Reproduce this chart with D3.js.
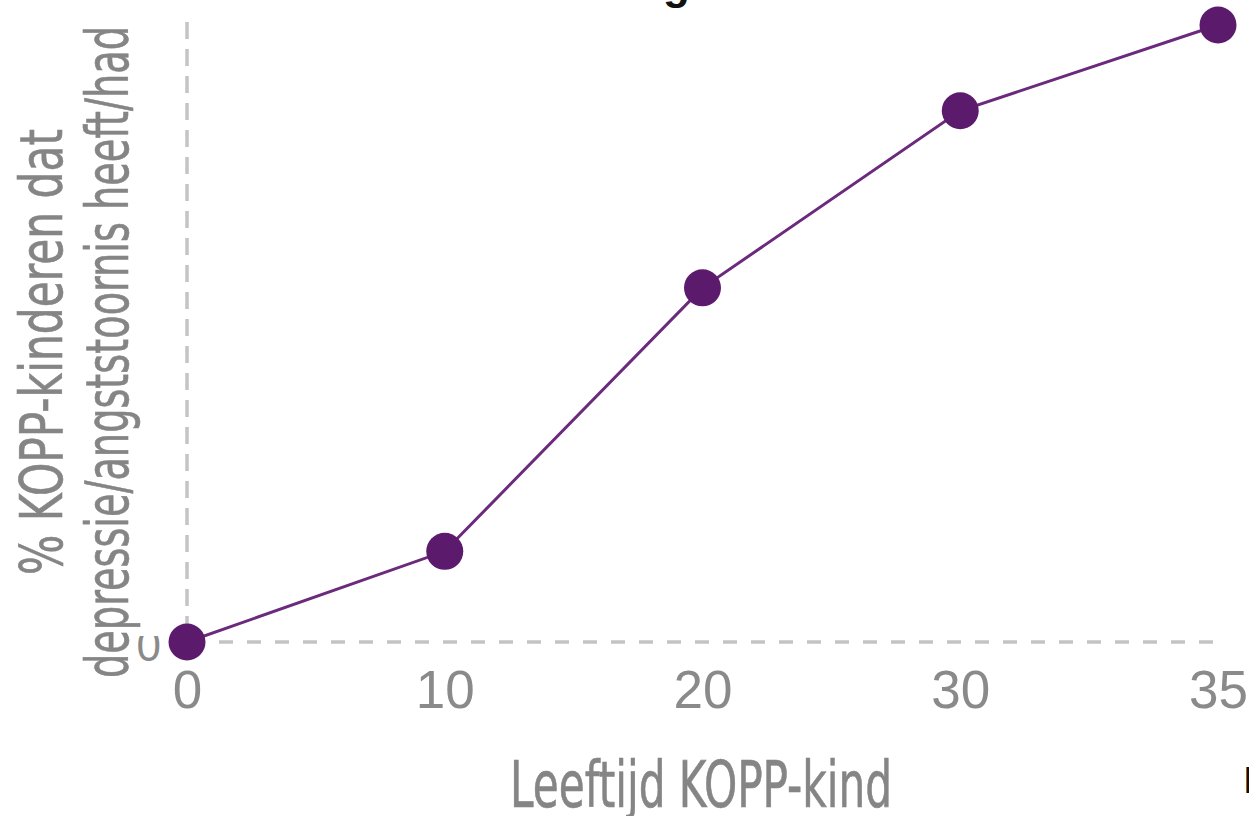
<!DOCTYPE html>
<html>
<head>
<meta charset="utf-8">
<script src="https://cdn.jsdelivr.net/npm/d3@7"></script>
<style>
  html, body { margin: 0; padding: 0; background: #ffffff; overflow: hidden; }
  svg { display: block; }
</style>
</head>
<body>
<svg id="chart" width="1249" height="816"></svg>
<script>
// ---- data ----
const ages = [0, 10, 20, 30, 35];                  // x categories (age of KOPP child)
const percentages = [0, 14.7, 57.4, 86.1, 100];     // relative % (only 0 is labelled in the source)
const xTickLabels = ["0", "10", "20", "30", "35"];
const yTickValues = [0];
const yTickLabels = ["0"];
const xTitle = "Leeftijd KOPP-kind";
const yTitleLines = ["% KOPP-kinderen dat", "depressie/angststoornis heeft/had"];

// ---- setup ----
const svg = d3.select("#chart");
const W = 1249, H = 816;
svg.append("rect").attr("width", W).attr("height", H).attr("fill", "#fff");

const x = d3.scalePoint().domain(ages).range([187, 1218]);
const y = d3.scaleLinear().domain([0, 100]).range([642, 25]);

const purple = "#5c1a6c";
const grey = "#8a8a8a";
const condensed = "'Liberation Sans Narrow', 'DejaVu Sans Condensed', 'Roboto Condensed', sans-serif";

// clipped title at the top (only descender visible)
svg.append("text")
  .attr("x", 690).attr("y", -1)
  .attr("text-anchor", "end")
  .attr("font-family", "'Liberation Sans', Arial, sans-serif")
  .attr("font-size", 44)
  .attr("font-weight", "bold")
  .attr("fill", "#111")
  .text("Ontwikkeling");

// dashed axis lines
svg.append("line")
  .attr("x1", x(0)).attr("x2", x(0))
  .attr("y1", 22).attr("y2", y(0) - 8)
  .attr("stroke", "#c4c4c4").attr("stroke-width", 3.5)
  .attr("stroke-dasharray", "17 10");
svg.append("line")
  .attr("x1", x(0) + 4).attr("x2", 1222)
  .attr("y1", y(0)).attr("y2", y(0))
  .attr("stroke", "#c4c4c4").attr("stroke-width", 3.5)
  .attr("stroke-dasharray", "14 14");

// x axis tick labels via d3 axis
const xAxis = d3.axisBottom(x).tickSize(0).tickPadding(0)
  .tickFormat((d, i) => xTickLabels[i]);
const gx = svg.append("g").attr("transform", "translate(0,670)").call(xAxis);
gx.select(".domain").remove();
gx.selectAll("text")
  .attr("dy", null).attr("y", 38)
  .attr("font-family", "'Liberation Sans', Arial, sans-serif")
  .attr("font-size", 53)
  .attr("fill", grey);

// y axis tick label "0" (partially hidden at its top)
svg.append("defs").append("clipPath").attr("id", "yclip")
  .append("rect").attr("x", 120).attr("y", 636).attr("width", 50).attr("height", 40);
const gyWrap = svg.append("g").attr("clip-path", "url(#yclip)");
const yAxis = d3.axisLeft(y).tickValues(yTickValues).tickSize(0).tickPadding(0)
  .tickFormat((d, i) => yTickLabels[i]);
const gy = gyWrap.append("g").attr("transform", "translate(161,0)").call(yAxis);
gy.select(".domain").remove();
gy.selectAll("text")
  .attr("dy", null).attr("y", 18)
  .attr("font-family", "'Liberation Sans', Arial, sans-serif")
  .attr("font-size", 44)
  .attr("fill", grey);

// y title (two rotated lines)
const yTitle = svg.append("g");
const yLineX = [62, 128];
const yLineLen = [446, 652];
yTitleLines.forEach((t, i) => {
  yTitle.append("text")
    .attr("transform", `translate(${yLineX[i]},352) rotate(-90)`)
    .attr("text-anchor", "middle")
    .attr("font-family", condensed)
    .attr("font-size", 58)
    .attr("fill", "#858585")
    .attr("stroke", "#858585")
    .attr("stroke-width", 0.6)
    .attr("textLength", yLineLen[i])
    .attr("lengthAdjust", "spacingAndGlyphs")
    .text(t);
});

// x title
svg.append("text")
  .attr("x", 701).attr("y", 807)
  .attr("text-anchor", "middle")
  .attr("font-family", condensed)
  .attr("font-size", 64)
  .attr("fill", "#858585")
  .attr("stroke", "#858585")
  .attr("stroke-width", 0.6)
  .attr("textLength", 382)
  .attr("lengthAdjust", "spacingAndGlyphs")
  .text(xTitle);

// clipped text fragment at bottom right
svg.append("text")
  .attr("x", 1243).attr("y", 793)
  .attr("font-family", "'Liberation Sans', Arial, sans-serif")
  .attr("font-size", 36)
  .attr("fill", "#111")
  .text("I");

// line + points
const data = ages.map((a, i) => ({ a, v: percentages[i] }));
svg.append("path")
  .datum(data)
  .attr("fill", "none")
  .attr("stroke", "#6b2a7c")
  .attr("stroke-width", 3)
  .attr("d", d3.line().x(d => x(d.a)).y(d => y(d.v)));
svg.selectAll("circle.pt")
  .data(data).enter().append("circle")
  .attr("class", "pt")
  .attr("cx", d => x(d.a)).attr("cy", d => y(d.v))
  .attr("r", 18.5)
  .attr("fill", purple);
</script>
</body>
</html>
